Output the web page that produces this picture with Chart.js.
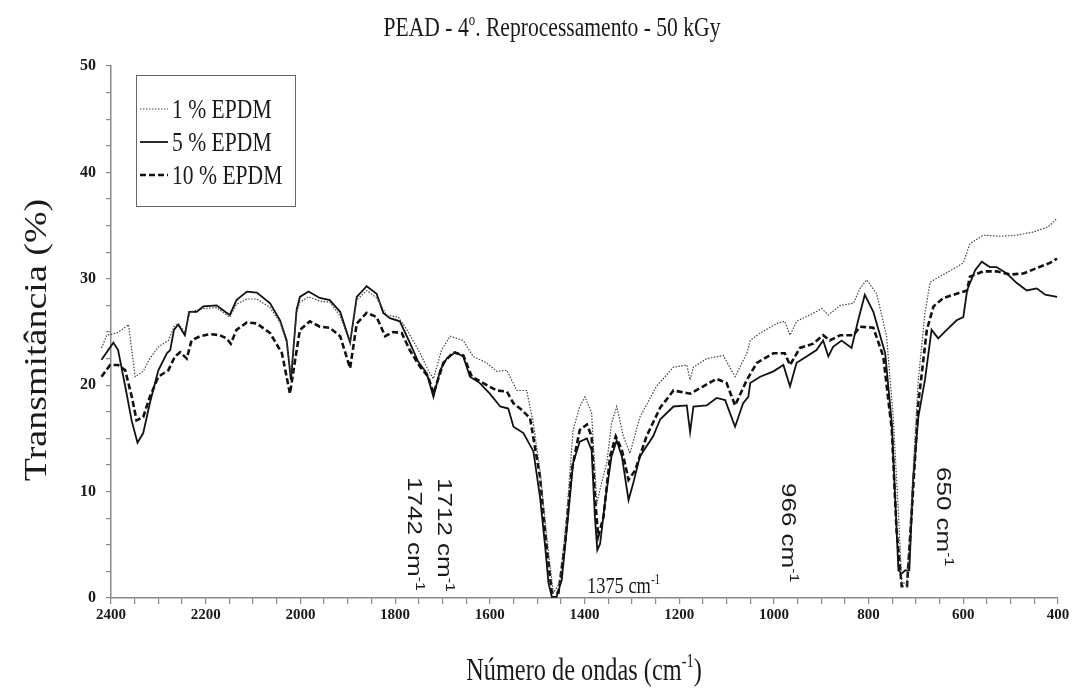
<!DOCTYPE html>
<html>
<head>
<meta charset="utf-8">
<script src="https://cdn.jsdelivr.net/npm/chart.js@4.4.1/dist/chart.umd.min.js"></script>
<style>
  html, body { margin: 0; padding: 0; background: #fff; }
  canvas { display: block; }
</style>
</head>
<body>
<canvas id="ftir" width="1079" height="697"></canvas>
<script>
// wavenumbers (cm-1) and transmittance (%)
const wn1 = [2420,2409,2388,2374,2363,2349,2332,2318,2300,2279,2267,2258,2244,2233,2205,2177,2159,2149,2135,2113,2092,2064,2043,2029,2020,2008,2001,1983,1959,1938,1916,1895,1881,1860,1839,1818,1793,1775,1747,1730,1719,1702,1684,1656,1635,1607,1585,1564,1543,1522,1508,1494,1480,1466,1452,1438,1424,1410,1399,1385,1374,1364,1353,1343,1332,1318,1304,1283,1248,1212,1184,1177,1170,1142,1107,1082,1057,1050,1029,994,977,966,952,924,899,885,860,832,818,804,783,762,748,737,730,719,709,695,681,670,642,614,600,586,558,523,487,452,420,402];
const t1  = [23.5,24.7,24.9,25.3,25.7,20.8,21.3,22.5,23.6,24.2,25.5,25.8,25.0,26.9,27.2,27.3,26.7,26.4,27.6,28.1,28.1,27.3,25.9,24.0,21.0,26.8,27.8,28.3,27.9,27.8,26.5,24.0,28.0,28.9,28.2,26.6,26.4,25.2,23.0,21.4,20.6,23.3,24.6,24.2,22.7,22.1,21.3,21.4,19.5,19.5,16.4,12.0,5.8,0.5,1.4,7.6,15.8,18.0,18.9,17.4,8.9,10.8,12.7,16.4,18.0,15.2,13.6,17.0,19.9,21.7,21.9,20.5,21.7,22.5,22.8,20.8,23.0,24.2,24.9,25.8,26.0,24.7,26.0,26.6,27.2,26.6,27.5,27.7,29.1,29.9,28.6,24.6,17.0,8.0,1.4,1.4,9.5,20.5,26.8,29.7,30.4,31.1,31.5,33.3,34.1,34.0,34.1,34.4,34.9,35.7];

const wn5 = [2420,2395,2385,2370,2356,2344,2332,2318,2300,2282,2275,2267,2258,2244,2235,2219,2205,2177,2159,2149,2135,2113,2092,2064,2043,2029,2020,2008,2001,1983,1959,1938,1916,1895,1881,1860,1839,1825,1811,1790,1769,1751,1733,1719,1705,1691,1673,1656,1642,1621,1600,1578,1561,1550,1529,1508,1494,1483,1476,1469,1459,1448,1434,1424,1410,1395,1385,1378,1373,1367,1357,1343,1332,1321,1307,1297,1283,1255,1240,1212,1184,1177,1170,1142,1121,1103,1082,1065,1054,1050,1029,1001,980,966,952,931,910,896,885,875,857,836,822,808,790,765,751,744,737,730,723,714,706,695,681,667,653,635,614,600,592,575,561,544,530,508,487,466,445,427,402];
const t5  = [22.4,24.0,23.3,19.9,16.6,14.6,15.5,18.3,21.4,23.0,23.3,25.2,25.7,24.7,26.9,26.9,27.4,27.5,26.9,26.6,28.0,28.8,28.7,27.7,26.1,24.2,20.5,27.1,28.3,28.8,28.2,28.0,26.9,24.0,28.3,29.3,28.6,26.8,26.3,26.0,24.0,22.2,21.1,18.9,21.4,22.5,23.1,22.7,20.8,20.2,19.2,18.0,17.8,16.1,15.5,13.8,9.5,4.8,1.4,0.1,0.1,1.7,8.0,12.7,14.7,15.0,13.9,7.6,4.5,5.1,8.9,13.3,14.8,13.3,9.2,10.8,13.3,15.2,16.8,18.0,18.1,15.6,18.0,18.1,18.8,18.6,16.1,18.3,18.9,20.2,20.8,21.3,21.9,19.9,22.1,22.7,23.3,24.2,22.7,23.6,24.2,23.5,26.1,28.5,26.9,23.0,16.4,9.5,2.6,2.3,2.6,2.6,11.1,17.0,20.5,25.2,24.4,25.2,26.1,26.4,28.9,30.8,31.6,31.1,31.1,30.5,29.6,28.9,29.1,28.5,28.3];

const wn10 = [2420,2402,2385,2370,2356,2346,2332,2318,2300,2279,2265,2254,2240,2230,2212,2191,2170,2156,2147,2135,2113,2092,2064,2039,2022,2011,2001,1980,1959,1938,1916,1895,1881,1860,1839,1821,1804,1786,1769,1747,1730,1719,1698,1677,1656,1638,1614,1585,1564,1550,1533,1515,1494,1480,1469,1455,1441,1427,1410,1395,1385,1378,1371,1360,1346,1334,1321,1307,1293,1269,1240,1212,1177,1149,1121,1100,1082,1057,1036,1001,977,966,945,917,896,882,860,832,818,790,769,751,741,730,719,709,695,677,663,642,614,592,586,558,530,501,473,445,417,402];
const t10  = [20.8,21.9,21.9,21.4,18.9,16.7,17.0,18.9,20.8,21.4,22.7,23.1,22.5,24.2,24.6,24.8,24.7,24.4,23.9,25.2,25.9,25.8,24.9,23.0,19.2,22.4,25.2,26.0,25.5,25.4,24.6,21.6,25.8,26.8,26.4,24.6,25.0,24.9,23.3,21.7,20.8,19.2,22.1,23.1,22.8,20.8,20.2,19.5,19.4,18.3,17.7,16.9,11.4,4.8,0.5,0.5,5.2,12.0,15.8,16.3,15.2,9.5,5.8,7.6,13.3,15.2,13.9,11.1,12.0,15.2,17.9,19.5,19.2,19.9,20.6,20.2,18.1,20.5,22.1,23.0,23.0,21.9,23.5,23.9,24.7,24.2,24.7,24.7,25.5,25.4,22.7,15.8,6.4,1.1,1.1,8.0,18.3,25.2,27.4,28.2,28.6,28.9,30.2,30.7,30.7,30.4,30.5,31.0,31.5,31.9];

const seriesNames = ['1 % EPDM', '5 % EPDM', '10 % EPDM'];

const SERIF = '"Liberation Serif", "Times New Roman", serif';
const SANS = '"Liberation Sans", Arial, sans-serif';

function pts(xs, ys) { return xs.map((x, i) => ({ x: x, y: ys[i] })); }

// text with optional superscript parts, optionally rotated and squeezed
function drawRich(ctx, parts, x, y, size, family, opt) {
  opt = opt || {};
  ctx.save();
  ctx.translate(x, y);
  if (opt.rot) ctx.rotate(opt.rot);
  ctx.scale(opt.sx || 1, opt.sy || 1);
  ctx.fillStyle = '#1a1a1a';
  ctx.textBaseline = opt.baseline || 'alphabetic';
  ctx.textAlign = 'left';
  let total = 0;
  const widths = parts.map(p => {
    ctx.font = (p.sup ? Math.round(size * 0.6) : size) + 'px ' + family;
    const w = ctx.measureText(p.t).width;
    total += w;
    return w;
  });
  let cx = opt.align === 'center' ? -total / 2 : 0;
  parts.forEach((p, i) => {
    ctx.font = (p.sup ? Math.round(size * 0.6) : size) + 'px ' + family;
    ctx.fillText(p.t, cx, p.sup ? -size * 0.4 : 0);
    cx += widths[i];
  });
  ctx.restore();
}

const decor = {
  id: 'decor',
  afterDraw(chart) {
    const ctx = chart.ctx;
    // title
    drawRich(ctx, [{ t: 'PEAD - 4' }, { t: 'o', sup: true }, { t: '. Reprocessamento - 50 kGy' }],
      552, 36, 27, SERIF, { align: 'center', sx: 0.8 });
    // axis titles
    drawRich(ctx, [{ t: 'Transmitância (%)' }], 38, 340, 38, SERIF,
      { align: 'center', rot: -Math.PI / 2, sy: 0.85, baseline: 'middle' });
    drawRich(ctx, [{ t: 'Número de ondas (cm' }, { t: '-1', sup: true }, { t: ')' }],
      584, 680, 32, SERIF, { align: 'center', sx: 0.76 });

    // legend box
    ctx.save();
    ctx.strokeStyle = '#666';
    ctx.lineWidth = 1;
    ctx.strokeRect(136.5, 75.5, 159, 131);
    const rows = [109, 142, 175];
    chart.data.datasets.forEach((ds, i) => {
      ctx.save();
      ctx.strokeStyle = ds.borderColor;
      ctx.lineWidth = ds.borderWidth;
      ctx.setLineDash(ds.borderDash || []);
      ctx.beginPath();
      ctx.moveTo(140, rows[i]);
      ctx.lineTo(168, rows[i]);
      ctx.stroke();
      ctx.restore();
      drawRich(ctx, [{ t: ds.label }], 172, rows[i] + 9, 27, SERIF, { sx: 0.8 });
    });
    ctx.restore();

    // band annotations
    drawRich(ctx, [{ t: '1375 cm' }, { t: '-1', sup: true }], 587, 593, 23, SERIF, { sx: 0.8 });
    const rotNotes = [['1742 cm', 408, 477], ['1712 cm', 438, 478], ['966 cm', 782, 483], ['650 cm', 937, 467]];
    rotNotes.forEach(n => {
      drawRich(ctx, [{ t: n[0] }, { t: '-1', sup: true }], n[1], n[2], 26, SANS,
        { rot: Math.PI / 2, sy: 0.8 });
    });
  }
};

new Chart(document.getElementById('ftir'), {
  type: 'line',
  data: {
    datasets: [
      { label: seriesNames[0], data: pts(wn1, t1), borderColor: '#444', borderWidth: 1.2, borderDash: [1.5, 1.5] },
      { label: seriesNames[1], data: pts(wn5, t5), borderColor: '#111', borderWidth: 1.8 },
      { label: seriesNames[2], data: pts(wn10, t10), borderColor: '#111', borderWidth: 2.6, borderDash: [6, 3] }
    ].map(d => Object.assign(d, { pointRadius: 0, tension: 0, fill: false, clip: false }))
  },
  options: {
    responsive: false,
    animation: false,
    layout: { padding: { left: 0, top: 66, right: 21, bottom: 0 } },
    plugins: { legend: { display: false }, title: { display: false }, tooltip: { enabled: false } },
    scales: {
      x: {
        type: 'linear', reverse: true, min: 400, max: 2400,
        afterFit: s => { s.height = 99; },
        border: { color: '#888', width: 1.5 },
        grid: { drawOnChartArea: false, tickLength: 6, color: '#888', lineWidth: 1.2 },
        ticks: {
          stepSize: 50, autoSkip: false, maxRotation: 0, padding: 2, color: '#1a1a1a',
          font: { family: SERIF, size: 15, weight: 'bold' },
          callback: v => (v % 200 === 0 ? String(v) : '')
        }
      },
      y: {
        min: 0, max: 50,
        afterFit: s => { s.width = 111; },
        border: { color: '#888', width: 1.5 },
        grid: { drawOnChartArea: false, tickLength: 5, color: '#888', lineWidth: 1.2 },
        ticks: {
          stepSize: 2.5, autoSkip: false, padding: 10, color: '#1a1a1a',
          font: { family: SERIF, size: 16, weight: 'bold' },
          callback: v => (v % 10 === 0 ? String(v) : '')
        }
      }
    }
  },
  plugins: [decor]
});
</script>
</body>
</html>
